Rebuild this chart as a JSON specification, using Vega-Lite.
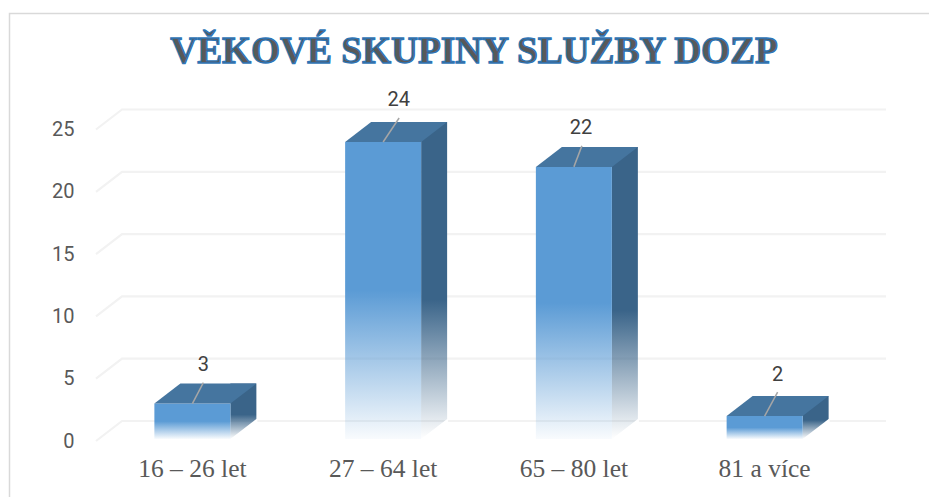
{
  "$schema": "https://vega.github.io/schema/vega-lite/v6.json",
  "width": 763,
  "height": 311.5,
  "autosize": {"type": "none"},
  "padding": {"left": 97, "top": 129.5, "right": 69, "bottom": 56},
  "background": "white",
  "title": {"text": "VĚKOVÉ SKUPINY SLUŽBY DOZP", "font": "Liberation Serif", "fontSize": 37.3, "fontWeight": "bold", "color": "#595959", "anchor": "middle", "dx": -4.5, "offset": 0, "dy": 90, "baseline": "alphabetic"},
  "config": {"view": {"stroke": null}, "style": {"group-title": {"stroke": "#2e75b6", "strokeWidth": 1.3}}},
  "datasets": {
    "bars": [
      {"skupina": "16 – 26 let", "pocet": 3},
      {"skupina": "27 – 64 let", "pocet": 24},
      {"skupina": "65 – 80 let", "pocet": 22},
      {"skupina": "81 a více", "pocet": 2}
    ],
    "ticks": [{"t": 0}, {"t": 5}, {"t": 10}, {"t": 15}, {"t": 20}, {"t": 25}],
    "one": [{"r": 1}]
  },
  "data": {"name": "bars"},
  "encoding": {
    "x": {"field": "skupina", "type": "nominal", "sort": null, "scale": {"type": "band", "paddingInner": 0.6, "paddingOuter": 0.3},
      "axis": {"title": null, "domain": false, "ticks": false, "grid": false, "labelAngle": 0, "labelFont": "Liberation Serif", "labelFontSize": 25.5, "labelColor": "#595959", "labelPadding": 15}},
    "y": {"field": "pocet", "type": "quantitative", "scale": {"domain": [0, 25], "nice": false},
      "axis": {"title": null, "domain": false, "ticks": false, "grid": false, "values": [0, 5, 10, 15, 20, 25], "labelFont": "Roboto", "labelFontSize": 20, "labelColor": "#595959", "labelPadding": 23}}
  },
  "layer": [
    {
      "data": {"name": "one"},
      "mark": {"type": "point", "filled": false, "opacity": 1, "size": 4, "stroke": "#d9d9d9", "strokeWidth": 1.5, "clip": false,
        "shape": "M-469 212L-469 -271.75L450.5 -271.75"},
      "encoding": {"x": {"value": 381.5}, "y": {"value": 155.75}}
    },
    {
      "data": {"name": "ticks"},
      "mark": {"type": "point", "filled": false, "opacity": 1, "size": 4, "stroke": "#f2f2f2", "strokeWidth": 2.2,
        "shape": "M-382.5 0L-356.5 -20L407.5 -20"},
      "encoding": {"x": {"value": 381.5}, "y": {"field": "t", "type": "quantitative"}}
    },
    {
      "mark": {"type": "bar", "size": 26, "xOffset": 51, "yOffset": -20, "y2Offset": -2,
        "fill": {"x1": 0, "y1": 0, "x2": 0, "y2": 1, "gradient": "linear", "stops": [{"offset": 0, "color": "rgba(58,100,137,1)"}, {"offset": 0.56, "color": "rgba(58,100,137,1)"}, {"offset": 1, "color": "rgba(58,100,137,0)"}]}},
      "encoding": {"y2": {"datum": 0}}
    },
    {
      "mark": {"type": "point", "filled": true, "opacity": 1, "size": 4, "fill": "white", "stroke": null, "shape": "M38 -2L64 -22L65 -22L65 0L38 0Z"},
      "encoding": {"y": {"datum": 0}}
    },
    {
      "mark": {"type": "bar", "size": 76, "y2Offset": -2,
        "fill": {"x1": 0, "y1": 0, "x2": 0, "y2": 1, "gradient": "linear", "stops": [{"offset": 0, "color": "rgba(91,155,213,1)"}, {"offset": 0.5, "color": "rgba(91,155,213,1)"}, {"offset": 1, "color": "rgba(91,155,213,0.04)"}]}},
      "encoding": {"y2": {"datum": 0}}
    },
    {
      "mark": {"type": "point", "filled": true, "opacity": 1, "size": 4, "fill": "#45759f", "stroke": null, "shape": "M-38 0L38 0L64 -20L-12 -20Z"}
    },
    {
      "mark": {"type": "point", "filled": false, "opacity": 1, "size": 4, "stroke": "#a6a6a6", "strokeWidth": 1.5,
        "shape": {"expr": "{'16 – 26 let':'M0 0L11 -21','27 – 64 let':'M0 0L16 -24','65 – 80 let':'M0 0L8 -21','81 a více':'M0 0L13 -24'}[datum.skupina]"}}
    },
    {
      "mark": {"type": "text", "font": "Roboto", "fontSize": 20, "color": "#404040", "baseline": "middle",
        "dx": {"expr": "{'16 – 26 let':11,'27 – 64 let':15.5,'65 – 80 let':7,'81 a více':13}[datum.skupina]"},
        "dy": {"expr": "{'16 – 26 let':-38.5,'27 – 64 let':-42,'65 – 80 let':-39,'81 a více':-41}[datum.skupina]"}},
      "encoding": {"text": {"field": "pocet", "type": "quantitative"}}
    }
  ]
}
